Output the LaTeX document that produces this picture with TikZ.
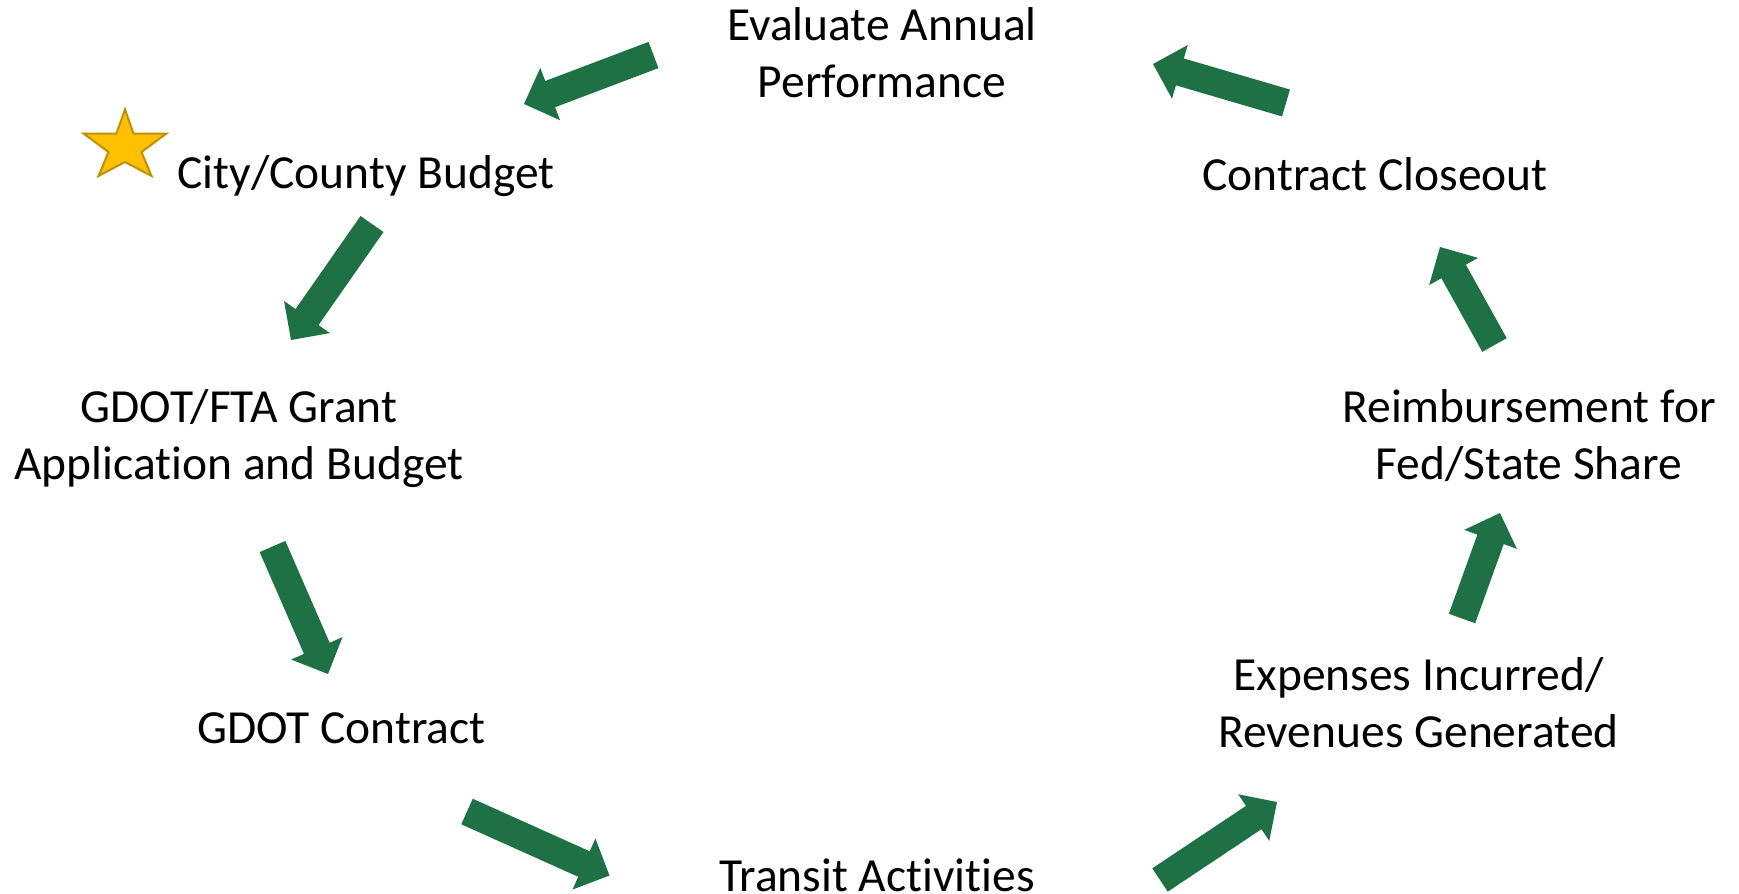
\documentclass[tikz,border=0pt]{standalone}
\usepackage{fontspec}
\setmainfont{Carlito}[Ligatures=NoCommon]
\usetikzlibrary{calc}

\definecolor{flowgreen}{HTML}{1E7145}
\definecolor{stargold}{HTML}{FFC000}
\definecolor{staredge}{HTML}{BF9000}

% block arrow: shaft 28px, head 56px wide and 28px long (1px = 0.4pt)
\newcommand{\shafthalf}{5.6pt}
\newcommand{\headhalf}{11.2pt}
\newcommand{\headlen}{11.2pt}
\newcommand{\flowarrow}[2]{%
  \coordinate (fa-neck) at ($(#2)!\headlen!(#1)$);
  \fill[flowgreen]
    ($(#1)!\shafthalf!90:(#2)$) --
    ($(fa-neck)!\shafthalf!90:(#2)$) --
    ($(fa-neck)!\headhalf!90:(#2)$) --
    (#2) --
    ($(fa-neck)!\headhalf!-90:(#2)$) --
    ($(fa-neck)!\shafthalf!-90:(#2)$) --
    ($(#1)!\shafthalf!-90:(#2)$) -- cycle;
}

\begin{document}
\begin{tikzpicture}[x=0.4pt, y=-0.4pt,
  step label/.style={anchor=base, inner sep=0pt, align=center,
    font=\fontsize{19pt}{22.8pt}\selectfont}]
\useasboundingbox (0,0) rectangle (1739,893);
\fill[white] (0,0) rectangle (1739,893);

% stage labels (anchored at the baseline of the last line)
\node[step label] (eval)     at (882,97)    {Evaluate Annual\\Performance};
\node[step label] (city)     at (366,188)   {City/County Budget};
\node[step label] (grant)    at (239,479)   {GDOT/FTA Grant\\Application and Budget};
\node[step label] (contract) at (341.5,743) {GDOT Contract};
\node[step label] (transit)  at (877,891)   {Transit Activities};
\node[step label] (expenses) at (1418.5,747) {Expenses Incurred/\\Revenues Generated};
\node[step label] (reimb)    at (1529,479)  {Reimbursement for\\Fed/State Share};
\node[step label] (closeout) at (1375,190.5) {Contract Closeout};

% starting point marker
\draw[fill=stargold, draw=staredge, line width=0.8pt, line join=miter]
  (125,109.5) -- (133.5,133.5) -- (166.5,133.5) -- (141.5,152) --
  (151.5,176) -- (125,162) -- (98.5,176) -- (108.5,152) --
  (83.5,133.5) -- (116.5,133.5) -- cycle;

% arrow ends
\coordinate (a1s) at (653.5,55);   \coordinate (a1e) at (524,104);
\coordinate (a2s) at (372,224);    \coordinate (a2e) at (291,340);
\coordinate (a3s) at (272.5,546.5);\coordinate (a3e) at (328,674);
\coordinate (a4s) at (467,811.5);  \coordinate (a4e) at (609.5,875.5);
\coordinate (a5s) at (1160,880);   \coordinate (a5e) at (1277,802);
\coordinate (a6s) at (1462,618.5); \coordinate (a6e) at (1500,513);
\coordinate (a7s) at (1494.5,345); \coordinate (a7e) at (1440,247);
\coordinate (a8s) at (1286,103);   \coordinate (a8e) at (1153,64);

\flowarrow{a1s}{a1e}
\flowarrow{a2s}{a2e}
\flowarrow{a3s}{a3e}
\flowarrow{a4s}{a4e}
\flowarrow{a5s}{a5e}
\flowarrow{a6s}{a6e}
\flowarrow{a7s}{a7e}
\flowarrow{a8s}{a8e}
\end{tikzpicture}
\end{document}
